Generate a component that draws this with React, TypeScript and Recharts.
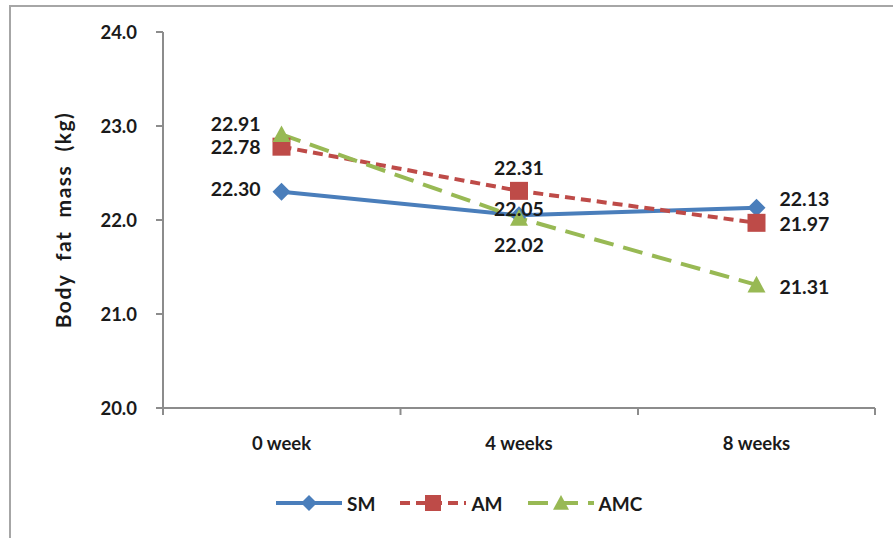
import React from 'react';
import { LineChart, Line, XAxis, YAxis, Legend, LabelList, Label } from 'recharts';

const weeks = ['0 week', '4 weeks', '8 weeks'];
const smValues = [22.30, 22.05, 22.13];
const amValues = [22.78, 22.31, 21.97];
const amcValues = [22.91, 22.02, 21.31];
const yTicks = [20, 21, 22, 23, 24];

const data = weeks.map((w, i) => ({ week: w, SM: smValues[i], AM: amValues[i], AMC: amcValues[i] }));

const FONT = 'Lato, "DejaVu Sans", sans-serif';
const TEXT = '#1a1a1a';
const AXIS = '#8c8c8c';
const HALF_BAND = 118.5;

type Place = { anchor: 'start' | 'middle' | 'end'; dx: number; dy: number };

const series = [
  {
    key: 'SM', color: '#4A7EBB', dash: undefined as string | undefined, shape: 'diamond',
    places: [
      { anchor: 'end', dx: -21, dy: -3 },
      { anchor: 'middle', dx: 0, dy: -7 },
      { anchor: 'start', dx: 23, dy: -9 },
    ] as Place[],
  },
  {
    key: 'AM', color: '#BE4B48', dash: '10 6', shape: 'square',
    places: [
      { anchor: 'end', dx: -21, dy: 0 },
      { anchor: 'middle', dx: 0, dy: -23 },
      { anchor: 'start', dx: 23, dy: 1 },
    ] as Place[],
  },
  {
    key: 'AMC', color: '#98B954', dash: '20 10', shape: 'triangle',
    places: [
      { anchor: 'end', dx: -21, dy: -11 },
      { anchor: 'middle', dx: 0, dy: 26 },
      { anchor: 'start', dx: 23, dy: 2 },
    ] as Place[],
  },
];

function Marker({ cx, cy, shape, color, size = 9 }: any) {
  if (cx == null || cy == null) return null;
  if (shape === 'diamond') {
    return <polygon points={`${cx},${cy - size} ${cx + size},${cy} ${cx},${cy + size} ${cx - size},${cy}`} fill={color} />;
  }
  if (shape === 'square') {
    return <rect x={cx - size} y={cy - size} width={size * 2} height={size * 2} fill={color} />;
  }
  return <polygon points={`${cx},${cy - size} ${cx + size},${cy + size * 0.85} ${cx - size},${cy + size * 0.85}`} fill={color} />;
}

function XTick(props: any) {
  const { x, y, payload, index, visibleTicksCount } = props;
  return (
    <g>
      <line x1={x - HALF_BAND} y1={y} x2={x - HALF_BAND} y2={y + 7} stroke={AXIS} strokeWidth={2} />
      {index === visibleTicksCount - 1 && (
        <line x1={x + HALF_BAND} y1={y} x2={x + HALF_BAND} y2={y + 7} stroke={AXIS} strokeWidth={2} />
      )}
      <text x={x} y={y + 35} textAnchor="middle" dominantBaseline="central" fill={TEXT}
        style={{ fontFamily: FONT, fontWeight: 700, fontSize: 18.5 }}>
        {payload.value}
      </text>
    </g>
  );
}

function makeLabel(places: Place[]) {
  return (props: any) => {
    const { x, y, value, index } = props;
    const p = places[index];
    return (
      <text x={x + p.dx} y={y + p.dy} textAnchor={p.anchor} dominantBaseline="central" fill={TEXT}
        style={{ fontFamily: FONT, fontWeight: 700, fontSize: 19.5 }}>
        {Number(value).toFixed(2)}
      </text>
    );
  };
}

function LegendContent() {
  return (
    <div style={{ display: 'flex', paddingLeft: 275, alignItems: 'center', height: 30 }}>
      {series.map((s) => (
        <div key={s.key} style={{ display: 'flex', alignItems: 'center', marginRight: 24 }}>
          <svg width={68} height={24}>
            <line x1={1} y1={12} x2={67} y2={12} stroke={s.color} strokeWidth={4} strokeDasharray={s.dash} />
            <Marker cx={34} cy={12} shape={s.shape} color={s.color} size={8} />
          </svg>
          <span style={{ fontFamily: FONT, fontWeight: 700, fontSize: 19, color: TEXT, marginLeft: 4 }}>{s.key}</span>
        </div>
      ))}
    </div>
  );
}

export default function App() {
  return (
    <div style={{ position: 'absolute', left: 0, top: 0, width: 893, height: 538, overflow: 'hidden', background: '#fff' }}>
      <div style={{ position: 'absolute', left: 9, top: 5, width: 1000, height: 700, borderLeft: '2px solid #a6a6a6', borderTop: '2px solid #a6a6a6' }} />
      <LineChart width={893} height={538} data={data} margin={{ top: 32, right: 18, left: 0, bottom: 70 }}>
        <XAxis dataKey="week" axisLine={{ stroke: AXIS, strokeWidth: 2 }} tickLine={false} tickSize={0} tickMargin={0}
          padding={{ left: HALF_BAND, right: HALF_BAND }} tick={<XTick />} height={60} interval={0} />
        <YAxis width={163} domain={[20, 24]} ticks={yTicks} tickFormatter={(v: number) => v.toFixed(1)}
          axisLine={{ stroke: AXIS, strokeWidth: 2 }} tickLine={{ stroke: AXIS, strokeWidth: 2 }} tickSize={7} tickMargin={19}
          tick={{ fill: TEXT, fontFamily: FONT, fontWeight: 700, fontSize: 18.5 }}>
          <Label content={(props: any) => {
            const vb = props.viewBox || { x: 0, y: 32, width: 163, height: 376 };
            const cx = vb.x + 62;
            const cy = vb.y + vb.height / 2;
            return (
              <text x={cx} y={cy} transform={`rotate(-90, ${cx}, ${cy})`} textAnchor="middle" dominantBaseline="central"
                fill={TEXT} style={{ fontFamily: FONT, fontWeight: 700, fontSize: 21, whiteSpace: 'pre', letterSpacing: 1.5 }}>
                {'Body  fat  mass  (kg)'}
              </text>
            );
          }} />
        </YAxis>
        {series.map((s) => (
          <Line key={s.key} type="linear" dataKey={s.key} stroke={s.color} strokeWidth={4} strokeDasharray={s.dash}
            isAnimationActive={false}
            dot={(p: any) => <Marker key={`${s.key}-${p.index}`} cx={p.cx} cy={p.cy} shape={s.shape} color={s.color} />}
            activeDot={false}>
            <LabelList dataKey={s.key} content={makeLabel(s.places)} />
          </Line>
        ))}
        <Legend layout="horizontal" verticalAlign="middle" align="center" content={<LegendContent />}
          wrapperStyle={{ top: 488, left: 0, width: 893 }} />
      </LineChart>
    </div>
  );
}
